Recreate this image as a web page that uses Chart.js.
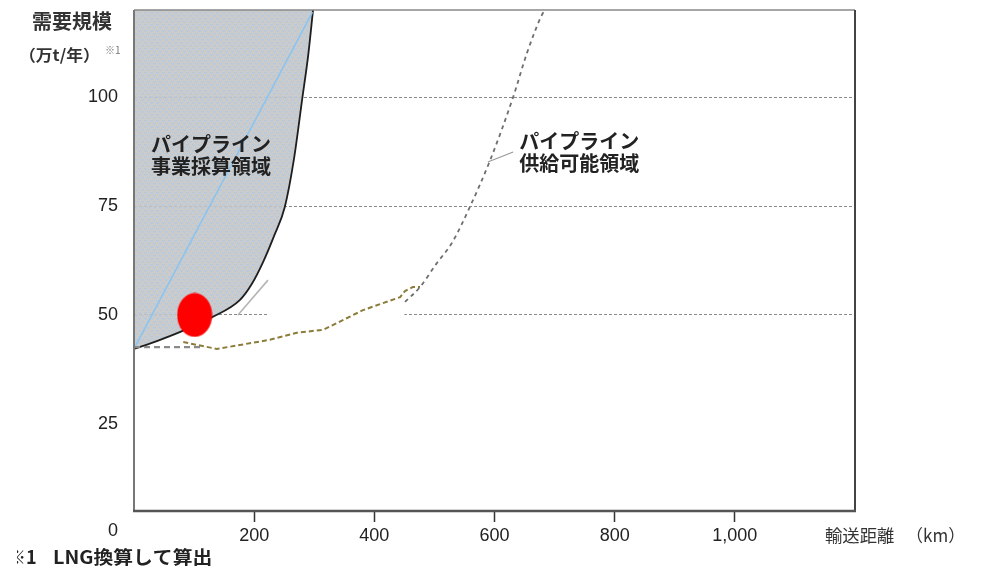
<!DOCTYPE html>
<html>
<head>
<meta charset="utf-8">
<script src="https://cdn.jsdelivr.net/npm/chart.js@4.4.1/dist/chart.umd.min.js"></script>
<style>
  html, body { margin: 0; padding: 0; background: #fff; }
  #wrap { width: 989px; height: 567px; }
</style>
</head>
<body>
<div id="wrap"><canvas id="demandChart" width="989" height="567"></canvas></div>
<script>
// axis ticks
const xTicks = [200, 400, 600, 800, 1000];
const yTicks = [25, 50, 75, 100];

// パイプライン事業採算領域の境界 (km, 万t/年)
const econKm = [0, 38, 77, 130, 176, 196, 215, 233, 251, 266, 280, 290, 298];
const econVal = [42.2, 44.0, 46.1, 49.5, 53.4, 57.1, 62.2, 68.1, 74.8, 85.6, 99.6, 109.7, 120];

// light blue line inside the shaded area
const blueKm = [3, 297];
const blueVal = [43, 119.5];

// パイプライン供給可能領域 (dashed)
const supplyKm = [451, 476, 504, 529, 559, 593, 631, 654, 679, 684];
const supplyVal = [53, 56.4, 61.9, 66.5, 74.8, 85.6, 100, 110.1, 118.9, 120];

// olive dashed line
const oliveKm = [82, 92, 138, 226, 271, 315, 381, 443, 451, 464, 476];
const oliveVal = [43.8, 43.5, 42.2, 44.3, 45.9, 46.6, 51.1, 54.1, 55.5, 56.4, 56.4];

// gray dashed line along the bottom of the shaded area
const baseKm = [0, 110];
const baseVal = [42.6, 42.6];

// leader lines
const leaderAKm = [173, 223];
const leaderAVal = [50, 58];
const leaderBKm = [589, 631];
const leaderBVal = [85.1, 87.4];

// white patch over the 50 grid line
const maskKm = [223, 450];
const maskVal = [50, 50];

// red marker
const markerKm = [101];
const markerVal = [50];

function pts(xs, ys) {
  return xs.map((x, i) => ({ x: x, y: ys[i] }));
}

// elliptical red marker
const ellipse = document.createElement("canvas");
ellipse.width = 36;
ellipse.height = 45;
const ectx = ellipse.getContext("2d");
ectx.fillStyle = "#ff0000";
ectx.beginPath();
ectx.ellipse(18, 22.5, 17.5, 22, 0, 0, Math.PI * 2);
ectx.fill();

// gray fill with light blue dots
const tile = document.createElement("canvas");
tile.width = 6;
tile.height = 6;
const tctx = tile.getContext("2d");
tctx.fillStyle = "rgba(196,196,196,0.88)";
tctx.fillRect(0, 0, 6, 6);
tctx.fillStyle = "rgba(170,201,232,0.95)";
[[0, 0], [2, 0], [1, 1], [3, 3], [5, 3], [4, 4]].forEach(([px, py]) => tctx.fillRect(px, py, 1, 1));
const shade = document.createElement("canvas").getContext("2d").createPattern(tile, "repeat");

const CJK = '"Noto Sans CJK JP", sans-serif';
const NUM = '"Liberation Sans", Arial, sans-serif';

// text with a little horizontal stretch
function wideText(ctx, text, x, y, stretch) {
  ctx.save();
  ctx.translate(x, y);
  ctx.scale(stretch, 1);
  ctx.fillText(text, 0, 0);
  ctx.restore();
}

// frame + texts
const decorPlugin = {
  id: "decor",
  afterDatasetsDraw(chart) {
    const { ctx, chartArea: a, scales } = chart;
    const sx = scales.x, sy = scales.y;
    ctx.save();

    // frame
    ctx.lineWidth = 1.5;
    ctx.strokeStyle = "#888";
    ctx.beginPath(); ctx.moveTo(a.left, a.top); ctx.lineTo(a.right, a.top); ctx.stroke();
    ctx.lineWidth = 2;
    ctx.strokeStyle = "#777";
    ctx.beginPath(); ctx.moveTo(a.left, a.top); ctx.lineTo(a.left, a.bottom); ctx.stroke();
    ctx.strokeStyle = "#444";
    ctx.beginPath(); ctx.moveTo(a.right, a.top); ctx.lineTo(a.right, a.bottom); ctx.stroke();
    ctx.lineWidth = 2.5;
    ctx.strokeStyle = "#555";
    ctx.beginPath(); ctx.moveTo(a.left - 1, a.bottom); ctx.lineTo(a.right + 1, a.bottom); ctx.stroke();

    // region labels
    ctx.fillStyle = "#222";
    ctx.textAlign = "center";
    ctx.textBaseline = "middle";
    ctx.font = "bold 20px " + CJK;
    ctx.fillText("パイプライン", sx.getPixelForValue(128), sy.getPixelForValue(89.2));
    ctx.fillText("事業採算領域", sx.getPixelForValue(128), sy.getPixelForValue(84.1));
    ctx.fillText("パイプライン", sx.getPixelForValue(741), sy.getPixelForValue(89.9));
    ctx.fillText("供給可能領域", sx.getPixelForValue(741), sy.getPixelForValue(84.7));

    // y axis title
    ctx.fillStyle = "#333";
    ctx.textAlign = "left";
    ctx.font = "bold 20px " + CJK;
    ctx.fillText("需要規模", 32, 21);
    ctx.font = "bold 16px " + CJK;
    wideText(ctx, "（万t/年）", 19, 55, 1.05);
    ctx.fillStyle = "#777";
    ctx.font = "10px " + CJK;
    ctx.fillText("※1", 105, 50);

    // origin label
    ctx.fillStyle = "#222";
    ctx.textAlign = "center";
    ctx.font = "18px " + NUM;
    ctx.fillText("0", 113, 531);

    // x axis title
    ctx.textAlign = "left";
    ctx.fillStyle = "#333";
    ctx.font = "17px " + CJK;
    wideText(ctx, "輸送距離", 825, 536, 1.02);
    ctx.fillText("（km）", 906, 536);

    // footnote
    ctx.beginPath();
    ctx.rect(17, 540, 300, 27);
    ctx.clip();
    ctx.fillStyle = "#222";
    ctx.font = "bold 18px " + CJK;
    ctx.fillText("※1", 8, 557);
    wideText(ctx, "LNG換算して算出", 53, 557, 1.1);

    ctx.restore();
  }
};

const ctx = document.getElementById("demandChart").getContext("2d");
new Chart(ctx, {
  type: "line",
  data: {
    datasets: [
      {
        label: "marker",
        data: pts(markerKm, markerVal),
        showLine: false,
        pointStyle: ellipse,
        pointRadius: 18,
        order: 0
      },
      {
        label: "事業採算領域",
        data: pts(econKm, econVal),
        borderColor: "#1e1e1e",
        borderWidth: 1.8,
        cubicInterpolationMode: "monotone",
        fill: "end",
        backgroundColor: shade,
        pointRadius: 0,
        order: 5
      },
      {
        label: "blue",
        data: pts(blueKm, blueVal),
        borderColor: "#8cc4ee",
        borderWidth: 1.6,
        pointRadius: 0,
        order: 1
      },
      {
        label: "供給可能領域",
        data: pts(supplyKm, supplyVal),
        borderColor: "#6e6e6e",
        borderWidth: 1.8,
        borderDash: [4, 4],
        cubicInterpolationMode: "monotone",
        pointRadius: 0,
        order: 1
      },
      {
        label: "olive",
        data: pts(oliveKm, oliveVal),
        borderColor: "#8c7c3a",
        borderWidth: 2,
        borderDash: [5, 3],
        pointRadius: 0,
        order: 1
      },
      {
        label: "base",
        data: pts(baseKm, baseVal),
        borderColor: "#8a8a8a",
        borderWidth: 2.2,
        borderDash: [6, 4],
        pointRadius: 0,
        order: 1
      },
      {
        label: "leaderA",
        data: pts(leaderAKm, leaderAVal),
        borderColor: "#b5b5b5",
        borderWidth: 1.6,
        pointRadius: 0,
        order: 1
      },
      {
        label: "leaderB",
        data: pts(leaderBKm, leaderBVal),
        borderColor: "#999",
        borderWidth: 1.2,
        pointRadius: 0,
        order: 1
      },
      {
        label: "mask",
        data: pts(maskKm, maskVal),
        borderColor: "#ffffff",
        borderWidth: 3,
        pointRadius: 0,
        order: 10
      }
    ]
  },
  options: {
    responsive: false,
    animation: false,
    layout: { autoPadding: false, padding: { top: 10, right: 134, left: 0, bottom: 0 } },
    plugins: {
      legend: { display: false },
      tooltip: { enabled: false }
    },
    scales: {
      x: {
        type: "linear",
        min: 0,
        max: 1200,
        afterBuildTicks: (scale) => {
          scale.ticks = xTicks.map((v) => ({ value: v }));
        },
        afterFit: (scale) => {
          scale.height = 56;
          scale.paddingLeft = 0;
          scale.paddingRight = 0;
        },
        border: { display: false },
        grid: {
          drawOnChartArea: false,
          drawTicks: true,
          tickLength: 11,
          tickWidth: 1.5,
          color: "#333"
        },
        ticks: {
          padding: 3,
          maxRotation: 0,
          color: "#222",
          font: { family: NUM, size: 18 },
          callback: (v) => v.toLocaleString("en-US")
        }
      },
      y: {
        type: "linear",
        min: 5,
        max: 120,
        afterBuildTicks: (scale) => {
          scale.ticks = yTicks.map((v) => ({ value: v }));
        },
        afterFit: (scale) => {
          scale.width = 134;
          scale.paddingTop = 0;
          scale.paddingBottom = 0;
        },
        border: { display: false, dash: [3, 2] },
        grid: {
          drawTicks: false,
          lineWidth: 1,
          color: (c) => (c.tick && c.tick.value === 25 ? "rgba(0,0,0,0)" : "#8a8a8a")
        },
        ticks: {
          padding: 16,
          color: "#222",
          font: { family: NUM, size: 18 }
        }
      }
    }
  },
  plugins: [decorPlugin]
});
</script>
</body>
</html>
